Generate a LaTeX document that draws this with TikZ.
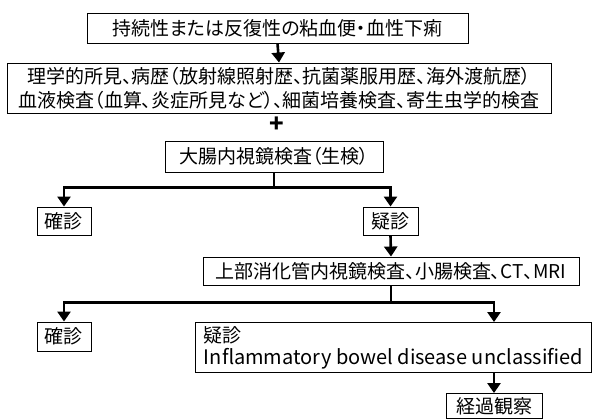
\documentclass[tikz,border=0pt]{standalone}
\usepackage{fontspec}
\setmainfont{Noto Sans CJK JP}[CharacterWidth=AlternateProportional]
\usetikzlibrary{arrows.meta}
\tikzset{
  box/.style={draw=black, line width=0.9pt, inner sep=0pt, align=center,
    font=\fontsize{19}{24}\selectfont},
  conn/.style={line width=2.6pt},
  arr/.style={line width=2.6pt, -{Triangle[width=13pt,length=10pt]}},
}
\begin{document}
\begin{tikzpicture}[x=1pt,y=-1pt]
\useasboundingbox (0,0) rectangle (592,419);
\node[box, minimum width=381pt, minimum height=30pt] (b1) at (277.5,28) {持続性または反復性の粘血便・血性下痢};
\node[box, minimum width=544pt, minimum height=50pt] (b2) at (279,88) {理学的所見、病歴（放射線照射歴、抗菌薬服用歴、海外渡航歴）\\血液検査（血算、炎症所見など）、細菌培養検査、寄生虫学的検査};
\node[font=\fontsize{24}{24}\selectfont\bfseries, inner sep=0pt] (plus) at (277,125) {+};
\node[box, minimum width=218pt, minimum height=31pt] (b3) at (274,156.5) {大腸内視鏡検査（生検）};
\node[box, minimum width=54pt, minimum height=28pt] (c1) at (64,221) {確診};
\node[box, minimum width=55pt, minimum height=28pt] (d1) at (390.5,221) {疑診};
\node[box, minimum width=376pt, minimum height=28pt] (b5) at (391,271) {上部消化管内視鏡検査、小腸検査、CT、MRI};
\node[box, minimum width=54pt, minimum height=29pt] (c2) at (64,336.5) {確診};
\node[box, minimum width=396pt, minimum height=50pt, align=left,
  font=\fontsize{19}{22}\selectfont] (b6) at (393.5,347.5) {疑診\\{\fontsize{20}{22}\selectfont Inflammatory bowel disease unclassified}};
\node[box, minimum width=96pt, minimum height=25pt] (b7) at (494,406) {経過観察};
\draw[arr] (b1.south) -- (b2.north);
\draw[conn] (b3.south) -- ++(0,15) coordinate (j1);
\draw[arr] (j1) -| (c1.north);
\draw[arr] (j1) -| (d1.north);
\draw[arr] (d1.south) -- (b5.north);
\draw[conn] (b5.south) -- ++(0,17) coordinate (j2);
\draw[arr] (j2) -| (c2.north);
\draw[arr] (j2) -| (b7.north |- b6.north);
\draw[arr] (b7.north |- b6.south) -- (b7.north);
\end{tikzpicture}
\end{document}
